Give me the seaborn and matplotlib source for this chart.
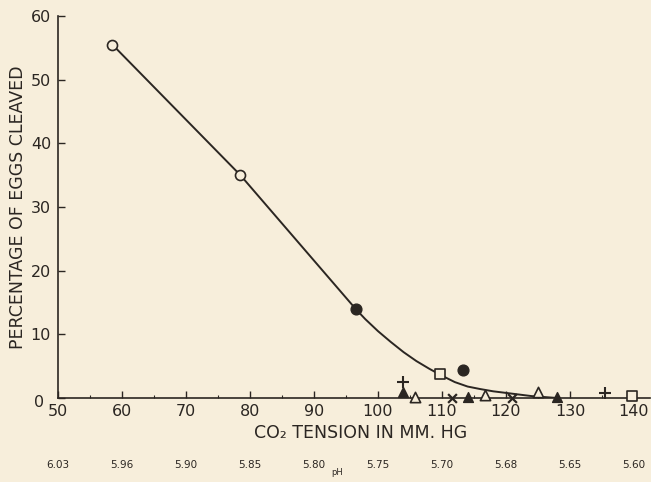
import matplotlib
matplotlib.use("Agg")
import matplotlib.pyplot as plt
import matplotlib.transforms as mtransforms
import seaborn as sns
import pandas as pd

# ---- data ----
open_circle_x = [58.5, 78.5]
open_circle_y = [55.5, 35.0]
filled_circle_x = [96.5, 113.3]
filled_circle_y = [14.0, 4.4]
open_square_x = [109.7, 139.7]
open_square_y = [3.8, 0.3]
plus_x = [103.9, 135.5]
plus_y = [2.5, 0.8]
filled_triangle_x = [103.9, 114.0, 128.0]
filled_triangle_y = [0.9, 0.2, 0.1]
open_triangle_x = [105.8, 116.7, 125.0]
open_triangle_y = [0.2, 0.4, 1.0]
cross_x = [111.6, 120.9]
cross_y = [0.0, 0.0]

curve_x = [58.5, 78.5, 96.5, 98, 100, 102, 104, 106, 108, 110, 112, 114,
           116, 118, 120, 122, 124, 126, 128]
curve_y = [55.5, 35.0, 14.0, 12.4, 10.5, 8.8, 7.2, 5.8, 4.6, 3.5, 2.5, 1.8,
           1.4, 1.05, 0.8, 0.55, 0.3, 0.15, 0.0]

x_ticks = [50, 60, 70, 80, 90, 100, 110, 120, 130, 140]
y_ticks = [0, 10, 20, 30, 40, 50, 60]
ph_labels = ["6.03", "5.96", "5.90", "5.85", "5.80", "5.75", "5.70", "5.68", "5.65", "5.60"]

x_label = "CO\u2082 TENSION IN MM. HG"
y_label = "PERCENTAGE OF EGGS CLEAVED"

# ---- styling ----
BG = "#f7eedb"
INK = "#2b2622"

sns.set_theme(style="ticks")
plt.rcParams["font.family"] = ["DejaVu Sans"]
plt.rcParams["text.color"] = INK
plt.rcParams["axes.labelcolor"] = INK
plt.rcParams["xtick.color"] = INK
plt.rcParams["ytick.color"] = INK

fig = plt.figure(figsize=(6.51, 4.82), dpi=100, facecolor=BG)
ax = fig.add_axes([58 / 651, 1 - 398 / 482, 592 / 651, 382 / 482])
ax.set_facecolor(BG)

curve_df = pd.DataFrame({"x": curve_x, "y": curve_y})
sns.lineplot(data=curve_df, x="x", y="y", sort=False, estimator=None,
             color=INK, linewidth=1.4, ax=ax, zorder=2)

groups = [
    (open_circle_x, open_circle_y, "o", BG, 52, 1.2),
    (filled_circle_x, filled_circle_y, "o", INK, 60, 1.0),
    (open_square_x, open_square_y, "s", BG, 42, 1.2),
    (plus_x, plus_y, "+", INK, 70, 1.5),
    (filled_triangle_x, filled_triangle_y, "^", INK, 50, 1.0),
    (open_triangle_x, open_triangle_y, "^", BG, 55, 1.2),
    (cross_x, cross_y, "x", INK, 40, 1.6),
]
for gx, gy, mk, fc, s, lw in groups:
    df = pd.DataFrame({"x": gx, "y": gy})
    if mk in ("+", "x"):
        sns.scatterplot(data=df, x="x", y="y", marker=mk, color=INK, s=s,
                        linewidth=lw, ax=ax, zorder=3, clip_on=False)
    else:
        sns.scatterplot(data=df, x="x", y="y", marker=mk, facecolor=fc,
                        edgecolor=INK, s=s, linewidth=lw, ax=ax, zorder=3,
                        clip_on=False)

ax.set_xlim(50, 142.5)
ax.set_ylim(0, 60)
ax.set_xticks(x_ticks)
ax.set_yticks(y_ticks)
ax.set_xticks([55, 65, 75, 85, 95, 105, 115, 125, 135], minor=True)
ax.tick_params(axis="both", which="major", direction="in", length=5,
               width=1.0, labelsize=11.5, colors=INK)
ax.tick_params(axis="x", which="minor", direction="in", length=2.5, width=0.8)
ax.tick_params(axis="x", which="major", pad=4)
ax.tick_params(axis="y", which="major", pad=5)
sns.despine(ax=ax)
for sp in ("left", "bottom"):
    ax.spines[sp].set_color(INK)
    ax.spines[sp].set_linewidth(1.2)

ax.set_xlabel(x_label, fontsize=12.5)
ax.set_ylabel(y_label, fontsize=12.5)
ax.xaxis.set_label_coords((361 - 58) / 592, -(424 - 398) / 382)
ax.yaxis.set_label_coords(-(58 - 27) / 592, 0.5)

# shift the "0" label of the y axis left/down as in the reference
fig.canvas.draw()
zero_lbl = ax.get_yticklabels()[0]
zero_lbl.set_transform(zero_lbl.get_transform() +
                       mtransforms.ScaledTranslation(-7 / 100, -3 / 100,
                                                     fig.dpi_scale_trans))

# pH scale below the axis
sec = ax.secondary_xaxis(-0.163)
sec.set_xticks(x_ticks)
sec.set_xticklabels(ph_labels)
sec.tick_params(length=0, pad=0, labelsize=7.5, colors=INK)
sec.spines["bottom"].set_visible(False)

trans = mtransforms.blended_transform_factory(ax.transData, ax.transAxes)
ax.text(93.6, -0.195, "pH", transform=trans, fontsize=6, ha="center",
        va="center", color=INK)

fig.savefig("out.png", dpi=100, facecolor=BG)
